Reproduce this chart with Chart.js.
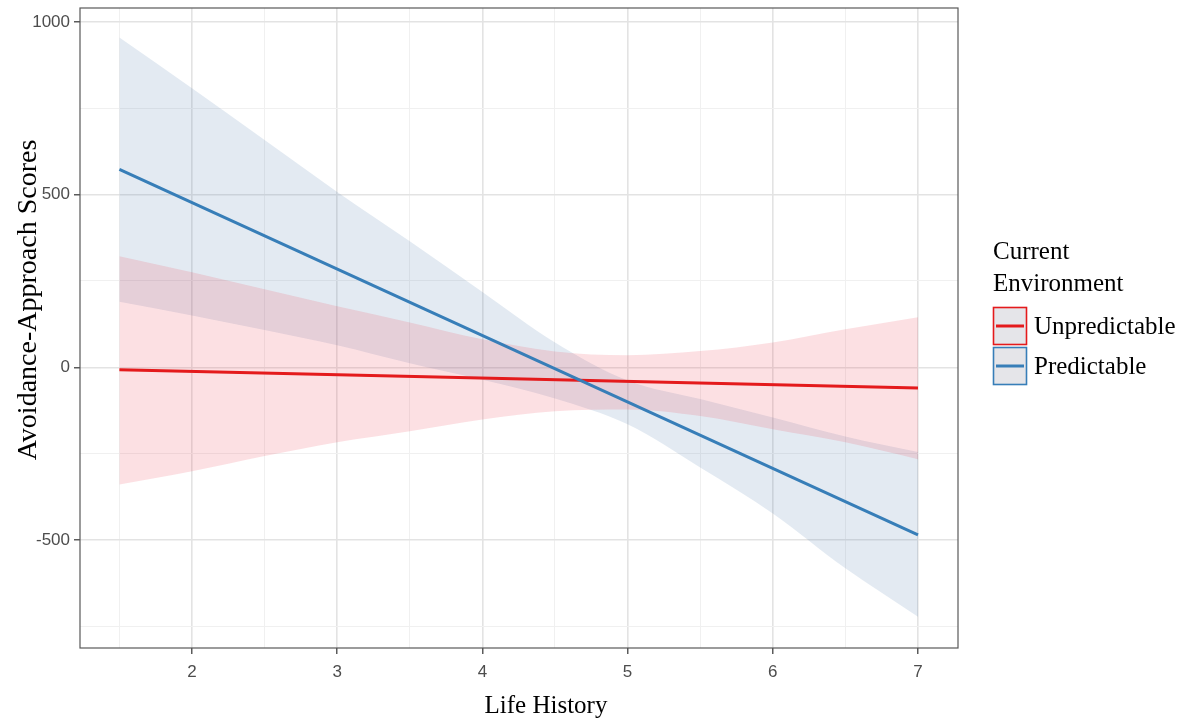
<!DOCTYPE html>
<html>
<head>
<meta charset="utf-8">
<script src="https://cdn.jsdelivr.net/npm/chart.js@4.4.1/dist/chart.umd.min.js"></script>
<style>
  html, body { margin: 0; padding: 0; background: #fff; }
  #wrap { width: 1190px; height: 723px; position: relative; }
</style>
</head>
<body>
<div id="wrap"><canvas id="lhChart"></canvas></div>
<script>
// x positions for the confidence bands (Life History)
const bandX = [1.5, 2, 2.5, 3, 3.5, 4, 4.5, 5, 5.5, 6, 6.5, 7];

// Unpredictable environment: fitted line and 95% band
const lineX = [1.5, 7];
const unpredFit = [-7, -60];
const unpredUpper = [322, 275, 226, 177, 130, 81, 46, 35, 47, 72, 110, 145];
const unpredLower = [-339, -301, -257, -217, -185, -151, -127, -122, -141, -179, -217, -266];

// Predictable environment: fitted line and 95% band
const predFit = [573, -485];
const predUpper = [955, 808, 658, 508, 365, 218, 72, -38, -92, -145, -200, -245];
const predLower = [190, 150, 108, 64, 12, -36, -90, -165, -290, -423, -582, -722];

// Tick labels
const xTicks = [1.5, 2, 2.5, 3, 3.5, 4, 4.5, 5, 5.5, 6, 6.5, 7];
const xLabels = ["2", "3", "4", "5", "6", "7"];
const yTicks = [-750, -500, -250, 0, 250, 500, 750, 1000];
const yLabels = ["-500", "0", "500", "1000"];

const legendTitle = ["Current", "Environment"];
const seriesNames = ["Unpredictable", "Predictable"];

const RED = "#E41A1C";
const BLUE = "#377EB8";

function pts(xs, ys) {
  return xs.map((x, i) => ({ x: x, y: ys[i] }));
}

function isMajorX(v) { return xLabels.includes(String(v)); }
function isMajorY(v) { return yLabels.includes(String(v)); }

// Panel border, axis titles and legend
const decorations = {
  id: "decorations",
  afterDraw(chart) {
    const ctx = chart.ctx;
    const a = chart.chartArea;
    ctx.save();
    ctx.strokeStyle = "#595959";
    ctx.lineWidth = 1.2;
    ctx.strokeRect(a.left, a.top, a.right - a.left, a.bottom - a.top);

    ctx.fillStyle = "#000";
    ctx.font = "25px 'Liberation Serif', 'Times New Roman', serif";
    ctx.textAlign = "center";
    ctx.textBaseline = "alphabetic";
    ctx.fillText("Life History", 546, 713);

    ctx.save();
    ctx.translate(36, 300);
    ctx.rotate(-Math.PI / 2);
    ctx.font = "28px 'Liberation Serif', 'Times New Roman', serif";
    ctx.fillText("Avoidance-Approach Scores", 0, 0);
    ctx.restore();

    // legend
    ctx.textAlign = "left";
    ctx.font = "25px 'Liberation Serif', 'Times New Roman', serif";
    ctx.fillText(legendTitle[0], 993, 259);
    ctx.fillText(legendTitle[1], 993, 291);

    const keyColors = [RED, BLUE];
    const keyTops = [307, 347];
    for (let i = 0; i < 2; i++) {
      const y = keyTops[i];
      ctx.fillStyle = "#e5e5e9";
      ctx.fillRect(993, y, 34, 38);
      ctx.strokeStyle = keyColors[i];
      ctx.lineWidth = 1.6;
      ctx.strokeRect(993.5, y + 0.5, 33, 37);
      ctx.lineWidth = 3;
      ctx.beginPath();
      ctx.moveTo(996, y + 19);
      ctx.lineTo(1024, y + 19);
      ctx.stroke();
      ctx.fillStyle = "#000";
      ctx.textBaseline = "middle";
      ctx.fillText(seriesNames[i], 1034, y + 20);
    }
    ctx.restore();
  }
};

function band(label, ys, fillColor, order) {
  return {
    label: label,
    data: pts(bandX, ys),
    borderWidth: 0,
    borderColor: "rgba(0,0,0,0)",
    pointRadius: 0,
    cubicInterpolationMode: "monotone",
    backgroundColor: fillColor || "rgba(0,0,0,0)",
    fill: fillColor ? "+1" : false,
    order: order
  };
}

const ctx = document.getElementById("lhChart").getContext("2d");
const chart = new Chart(ctx, {
  type: "line",
  data: {
    datasets: [
      {
        label: "Predictable",
        data: pts(lineX, predFit),
        borderColor: BLUE,
        borderWidth: 3,
        pointRadius: 0,
        fill: false,
        order: 0
      },
      {
        label: "Unpredictable",
        data: pts(lineX, unpredFit),
        borderColor: RED,
        borderWidth: 3,
        pointRadius: 0,
        fill: false,
        order: 1
      },
      band("Unpredictable upper", unpredUpper, "rgba(238, 60, 80, 0.16)", 2),
      band("Unpredictable lower", unpredLower, null, 3),
      band("Predictable upper", predUpper, "rgba(70, 115, 165, 0.15)", 4),
      band("Predictable lower", predLower, null, 5)
    ]
  },
  options: {
    responsive: true,
    maintainAspectRatio: false,
    animation: false,
    layout: { padding: { left: 0, top: 8, right: 232, bottom: 0 } },
    plugins: {
      legend: { display: false },
      tooltip: { enabled: false }
    },
    scales: {
      x: {
        type: "linear",
        min: 1.2287,
        max: 7.2755,
        afterBuildTicks: (scale) => { scale.ticks = xTicks.map((v) => ({ value: v })); },
        afterFit: (scale) => {
          scale.height = 75;
          scale.paddingLeft = 0;
          scale.paddingRight = 0;
        },
        border: { display: false },
        grid: {
          color: (c) => isMajorX(c.tick && c.tick.value) ? "#e3e3e3" : "#f0f0f0",
          lineWidth: (c) => isMajorX(c.tick && c.tick.value) ? 1.6 : 1,
          tickColor: (c) => isMajorX(c.tick && c.tick.value) ? "#333" : "rgba(0,0,0,0)",
          tickLength: 6,
          tickWidth: 1.2
        },
        ticks: {
          autoSkip: false,
          maxRotation: 0,
          padding: 8,
          color: "#4d4d4d",
          font: { family: "'Liberation Sans', Arial, sans-serif", size: 17 },
          callback: (v) => isMajorX(v) ? String(v) : ""
        }
      },
      y: {
        type: "linear",
        min: -812.7,
        max: 1040.5,
        afterBuildTicks: (scale) => { scale.ticks = yTicks.map((v) => ({ value: v })); },
        afterFit: (scale) => {
          scale.width = 80;
          scale.paddingTop = 0;
          scale.paddingBottom = 0;
        },
        border: { display: false },
        grid: {
          color: (c) => isMajorY(c.tick && c.tick.value) ? "#e3e3e3" : "#f0f0f0",
          lineWidth: (c) => isMajorY(c.tick && c.tick.value) ? 1.6 : 1,
          tickColor: (c) => isMajorY(c.tick && c.tick.value) ? "#333" : "rgba(0,0,0,0)",
          tickLength: 6,
          tickWidth: 1.2
        },
        ticks: {
          autoSkip: false,
          padding: 4,
          color: "#4d4d4d",
          font: { family: "'Liberation Sans', Arial, sans-serif", size: 17 },
          callback: (v) => isMajorY(v) ? String(v) : ""
        }
      }
    }
  },
  plugins: [decorations]
});
</script>
</body>
</html>
